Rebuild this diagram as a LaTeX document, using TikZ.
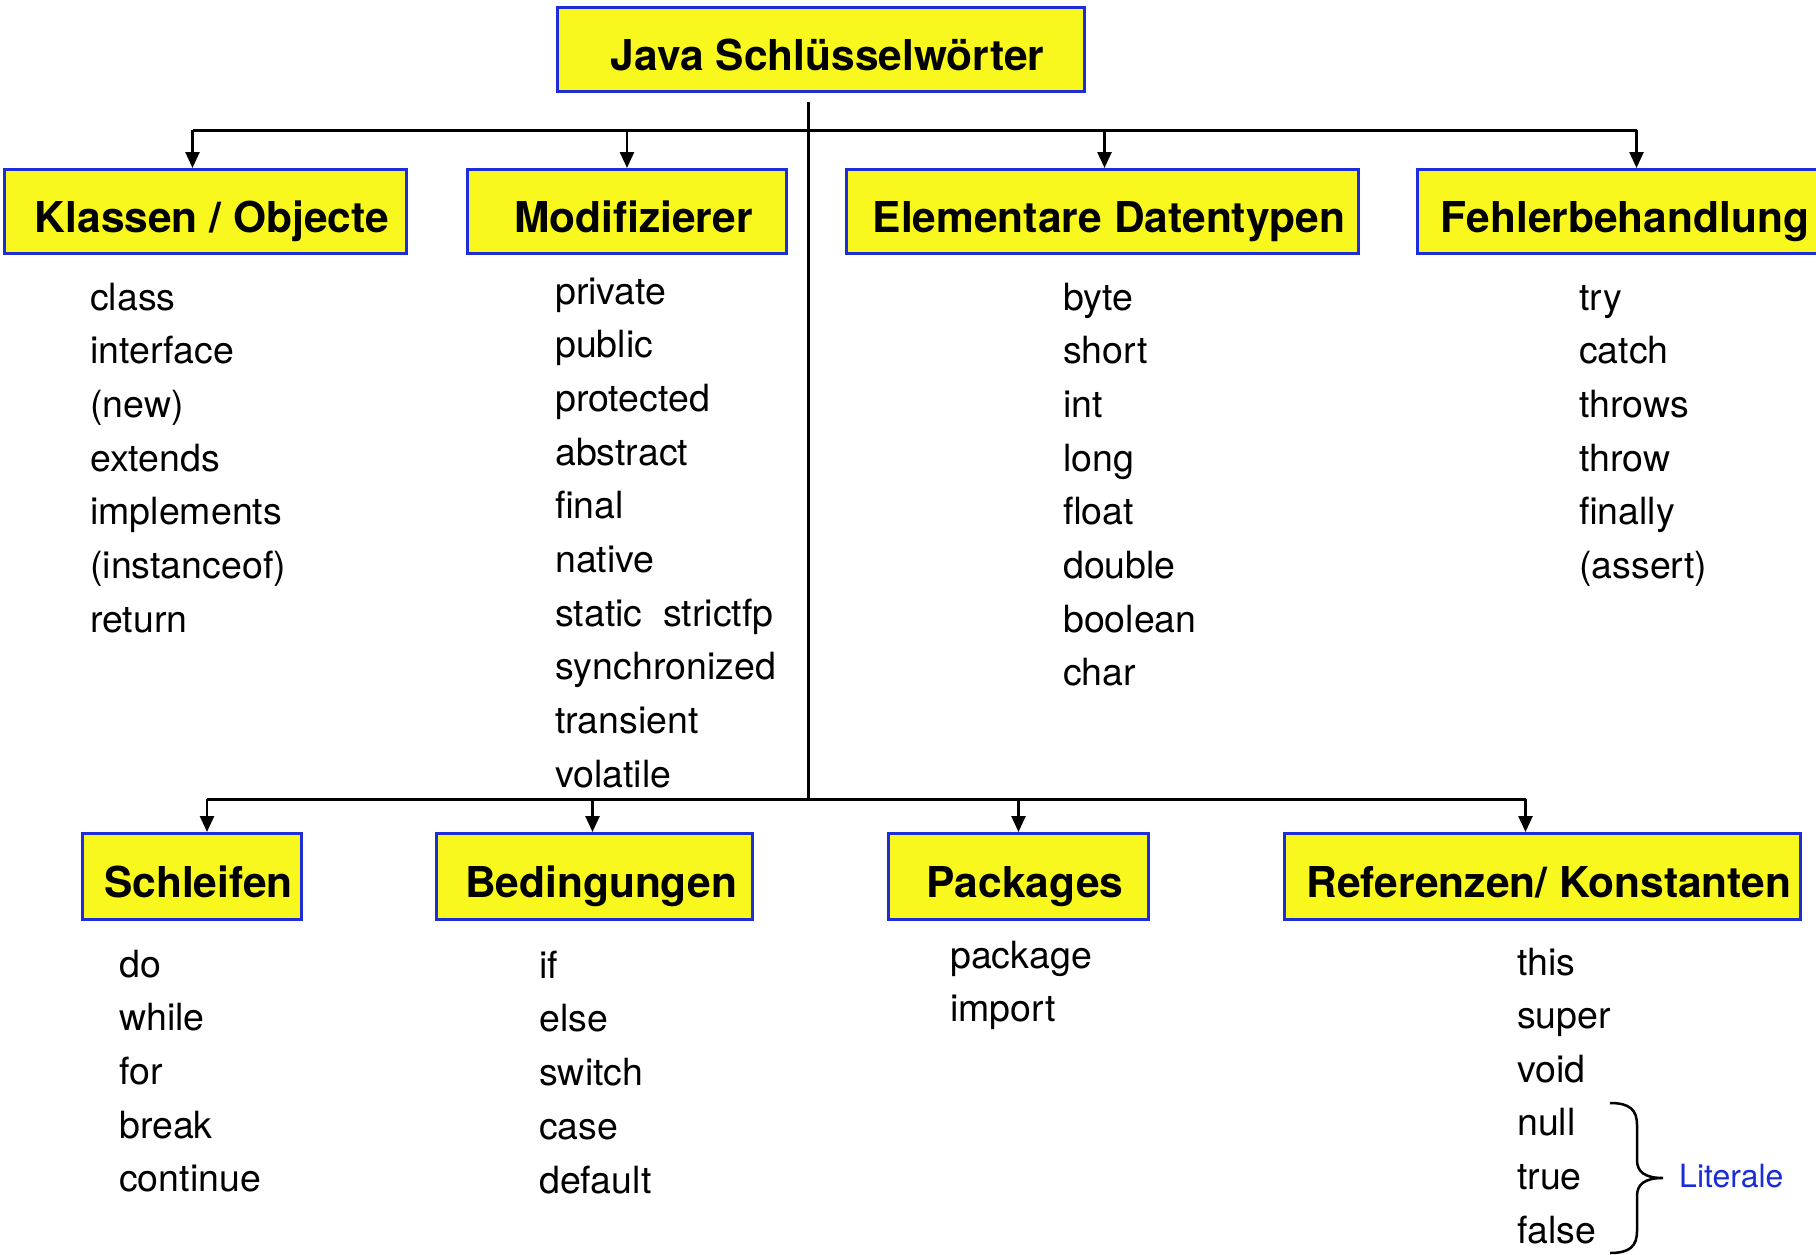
\documentclass[tikz,border=0pt]{standalone}
\usepackage{fontspec}
\setmainfont{TeX Gyre Heros}
\usetikzlibrary{arrows.meta}
\definecolor{boxyellow}{RGB}{248,248,30}
\definecolor{boxblue}{RGB}{30,45,215}
\definecolor{litblue}{RGB}{25,45,215}
\tikzset{
  cat/.style={draw=boxblue, line width=3pt, fill=boxyellow,
    font=\fontsize{42.5}{50}\selectfont\bfseries, inner sep=0pt, anchor=north west,
    text height=42pt, text depth=0pt, execute at begin node={\hspace*{13pt}}},
  kw/.style={font=\fontsize{37.5}{45}\selectfont, anchor=base west, inner sep=0pt},
  drop/.style={line width=2.5pt, -{Triangle[length=16pt,width=14pt]}},
  bus/.style={line width=3pt},
  trunk/.style={line width=3pt},
}
\begin{document}
\begin{tikzpicture}[x=1pt,y=-1pt]
\useasboundingbox (0,0) rectangle (1816,1255);
% boxes
\node[cat, minimum width=527pt, minimum height=84pt] (top) at (556,6) {Java Schlüsselwörter};
\node[cat, minimum width=402pt, minimum height=84pt] (kl) at (3,168) {Klassen / Objecte};
\node[cat, minimum width=319pt, minimum height=84pt] (mo) at (466,168) {Modifizierer};
\node[cat, minimum width=512pt, minimum height=84pt] (el) at (845,168) {Elementare Datentypen};
\node[cat, minimum width=402pt, minimum height=84pt] (fe) at (1416,168) {Fehlerbehandlung};
\node[cat, minimum width=219pt, minimum height=86pt] (sc) at (81,832) {Schleifen};
\node[cat, minimum width=316pt, minimum height=86pt] (be) at (435,832) {Bedingungen};
\node[cat, minimum width=260pt, minimum height=86pt] (pa) at (887,832) {Packages};
\node[cat, minimum width=516pt, minimum height=86pt] (re) at (1283,832) {Referenzen/ Konstanten};
% connectors
\coordinate (ttop) at (808,102);
\coordinate (tb) at (808,130);
\coordinate (bb) at (808,799);
\draw[trunk] (ttop) -- (bb);
\draw[bus] ([xshift=-13pt]kl.north |- tb) -- ([xshift=18pt]fe.north |- tb);
\draw[drop] ([xshift=-13pt]kl.north |- tb) -- ([xshift=-13pt]kl.north);
\draw[drop] (mo.north |- tb) -- (mo.north);
\draw[drop] ([xshift=2pt]el.north |- tb) -- ([xshift=2pt]el.north);
\draw[drop] ([xshift=18pt]fe.north |- tb) -- ([xshift=18pt]fe.north);
\draw[bus] ([xshift=15pt]sc.north |- bb) -- ([xshift=-17pt]re.north |- bb);
\draw[drop] ([xshift=15pt]sc.north |- bb) -- ([xshift=15pt]sc.north);
\draw[drop] ([xshift=-2pt]be.north |- bb) -- ([xshift=-2pt]be.north);
\draw[drop] (pa.north |- bb) -- (pa.north);
\draw[drop] ([xshift=-17pt]re.north |- bb) -- ([xshift=-17pt]re.north);
% keyword lists
\foreach \w [count=\i] in {class,interface,{(new)},extends,implements,{(instanceof)},return}
  \node[kw] (kl\i) at (90,{310+53.7*(\i-1)}) {\w};
\foreach \w [count=\i] in {private,public,protected,abstract,final,native,{static\ \ strictfp},synchronized,transient,volatile}
  \node[kw] (mo\i) at (555,{304+53.7*(\i-1)}) {\w};
\foreach \w [count=\i] in {byte,short,int,long,float,double,boolean,char}
  \node[kw] (el\i) at (1063,{310+53.7*(\i-1)}) {\w};
\foreach \w [count=\i] in {try,catch,throws,throw,finally,{(assert)}}
  \node[kw] (fe\i) at (1579,{310+53.7*(\i-1)}) {\w};
\foreach \w [count=\i] in {do,while,for,break,continue}
  \node[kw] (sc\i) at (119,{977+53.7*(\i-1)}) {\w};
\foreach \w [count=\i] in {if,else,switch,case,default}
  \node[kw] (be\i) at (539,{978+53.9*(\i-1)}) {\w};
\foreach \w [count=\i] in {package,import}
  \node[kw] (pa\i) at (950,{968+53.5*(\i-1)}) {\w};
\foreach \w [count=\i] in {this,super,void,null,true,false}
  \node[kw] (re\i) at (1517,{975+53.6*(\i-1)}) {\w};
% brace
\coordinate (brtop) at (1610,1103);
\coordinate (brtip) at (1663,1178);
\coordinate (brbot) at (1610,1253);
\draw[line width=2.5pt] (brtop) .. controls (1630,1103) and (1637,1110) .. (1637,1125)
  -- (1637,1160) .. controls (1637,1172) and (1645,1178) .. (brtip)
  .. controls (1645,1178) and (1637,1184) .. (1637,1196)
  -- (1637,1231) .. controls (1637,1246) and (1630,1253) .. (brbot);
\node[font=\fontsize{32}{38}\selectfont, text=litblue, anchor=base west, inner sep=0pt] (lit) at (1679,1187) {Literale};
\end{tikzpicture}
\end{document}
